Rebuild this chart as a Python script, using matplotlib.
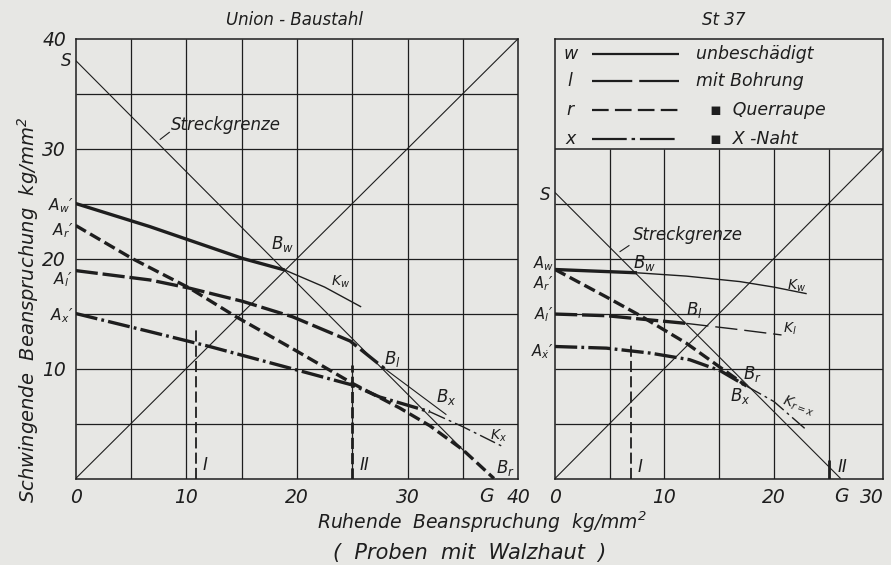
import numpy as np
import matplotlib
matplotlib.use('Agg')
import matplotlib.pyplot as plt

plt.rcParams['font.family'] = ['DejaVu Sans']
plt.rcParams['font.style'] = 'italic'
plt.rcParams['mathtext.fontset'] = 'dejavusans'
plt.rcParams['lines.scale_dashes'] = False
plt.rcParams['lines.solid_capstyle'] = 'butt'
plt.rcParams['lines.dash_capstyle'] = 'butt'

# ---------------- data: Union-Baustahl (left) ----------------
L_streck_x = [0, 35.2]
L_streck_y = [38.0, 2.4]
L_diag_x = [0, 40]
L_diag_y = [0, 40]
L_w_x = [0, 6.7, 15.1, 18.9]
L_w_y = [25.0, 22.9, 20.0, 18.95]
L_kw_x = [18.9, 22.5, 25.8]
L_kw_y = [18.95, 17.4, 15.6]
L_l_x = [0, 6.7, 10.3, 15.1, 19.6, 24.8, 27.9]
L_l_y = [18.9, 18.05, 17.3, 16.1, 14.7, 12.5, 10.0]
L_kl_x = [27.9, 33.5]
L_kl_y = [10.0, 5.8]
L_r_x = [0, 5.1, 10.3, 14.5, 19.6, 25.1, 29.3, 32.0, 35.0, 37.8]
L_r_y = [23.0, 20.0, 17.3, 14.7, 11.8, 8.6, 6.4, 4.8, 2.6, 0.0]
L_x_x = [0, 6.7, 12.1, 18.75, 25.0, 27.5, 32.0]
L_x_y = [15.0, 13.35, 12.0, 10.2, 8.5, 7.4, 6.07]
L_kx_x = [32.0, 35.0, 38.6]
L_kx_y = [6.07, 4.7, 2.9]
L_I = (10.9, 13.8)
L_II = (25.0, 10.3)
L_G = 37.1

# ---------------- data: St 37 (right) ----------------
R_streck_x = [0, 26.1]
R_streck_y = [26.0, 0.0]
R_diag_x = [0, 30]
R_diag_y = [0, 30]
R_w_x = [0, 7.5]
R_w_y = [19.0, 18.7]
R_kw_x = [7.5, 12.0, 16.9, 20.0, 23.0]
R_kw_y = [18.7, 18.4, 17.9, 17.4, 16.8]
R_l_x = [0, 4.7, 7.8, 12.0]
R_l_y = [14.95, 14.8, 14.5, 14.1]
R_kl_x = [12.0, 16.3, 20.7]
R_kl_y = [14.1, 13.6, 13.05]
R_r_x = [0, 4.7, 7.8, 12.0, 15.1, 17.5]
R_r_y = [19.0, 16.5, 14.8, 12.3, 10.1, 8.4]
R_x_x = [0, 4.7, 8.7, 12.3, 15.1, 17.5]
R_x_y = [12.0, 11.85, 11.4, 10.8, 9.8, 8.4]
R_krx_x = [17.5, 20.0, 23.0]
R_krx_y = [8.4, 7.0, 4.4]
R_I = (6.9, 12.1)
R_II = (25.0, 1.7)
R_G = 26.2

L_xticks = [0, 10, 20, 30, 40]
L_yticks = [10, 20, 30, 40]
R_xticks = [0, 10, 20, 30]

legend_keys = ['w', 'l', 'r', 'x']
legend_texts = ['unbeschädigt', 'mit Bohrung', '▪  Querraupe', '▪  X -Naht']

BG = '#e7e7e4'
INK = '#1e1e1e'
THICK = 2.4
THIN = 0.8
GRID = 0.9

DASH_L = (0, (16, 3.5))
DASH_R = (0, (8.5, 3.5))
DASH_X = (0, (16, 3, 2, 3))

fig = plt.figure(figsize=(8.91, 5.65), dpi=100, facecolor=BG)
bottom = (565 - 478.5) / 565
height = 440 / 565
axL = fig.add_axes([75.7 / 891, bottom, (518.3 - 75.7) / 891, height])
axR = fig.add_axes([555 / 891, bottom, (883.3 - 555) / 891, height])

for ax in (axL, axR):
    ax.set_facecolor(BG)
    for s in ax.spines.values():
        s.set_linewidth(1.1)
        s.set_color(INK)
    ax.tick_params(length=0, labelsize=13.5, colors=INK, pad=7)
    ax.set_ylim(0, 40)

# ---- left panel ----
axL.set_xlim(0, 40)
for g in np.arange(5, 40, 5):
    axL.axvline(g, color=INK, lw=GRID, zorder=1)
    axL.axhline(g, color=INK, lw=GRID, zorder=1)
axL.set_xticks(L_xticks)
axL.set_xticklabels([str(t) for t in L_xticks])
axL.set_yticks(L_yticks)
axL.set_yticklabels([str(t) for t in L_yticks])
for lab in axL.get_yticklabels():
    if lab.get_text() == '20':
        lab.set_y(20.7)

axL.plot(L_diag_x, L_diag_y, color=INK, lw=THIN, zorder=2)
axL.plot(L_streck_x, L_streck_y, color=INK, lw=THIN, zorder=2)
axL.plot(L_w_x, L_w_y, color=INK, lw=THICK, zorder=3)
axL.plot(L_kw_x, L_kw_y, color=INK, lw=THIN + 0.2, zorder=3)
axL.plot(L_l_x, L_l_y, color=INK, lw=THICK, ls=DASH_L, zorder=3)
axL.plot(L_kl_x, L_kl_y, color=INK, lw=THIN, zorder=3)
axL.plot(L_r_x, L_r_y, color=INK, lw=THICK, ls=DASH_R, zorder=3)
axL.plot(L_x_x, L_x_y, color=INK, lw=THICK, ls=DASH_X, zorder=3)
axL.plot(L_kx_x, L_kx_y, color=INK, lw=THIN + 0.2, ls=(0, (12, 3, 2, 3)), zorder=3)
axL.plot([L_I[0], L_I[0]], [0, L_I[1]], color=INK, lw=1.3, ls=(0, (8, 3)), zorder=3)
axL.plot([L_II[0], L_II[0]], [0, L_II[1]], color=INK, lw=2.0, ls=(0, (8, 3)), zorder=3)

tk = dict(color=INK, fontsize=12)
tka = dict(color=INK, fontsize=11)
axL.text(-0.4, 38.0, 'S', ha='right', va='center', clip_on=False, **tk)
axL.text(-0.2, 24.8, 'A$_w$′', ha='right', va='center', clip_on=False, **tka)
axL.text(-0.2, 22.5, 'A$_r$′', ha='right', va='center', clip_on=False, **tka)
axL.text(-0.2, 18.1, 'A$_l$′', ha='right', va='center', clip_on=False, **tka)
axL.text(-0.2, 14.8, 'A$_x$′', ha='right', va='center', clip_on=False, **tka)
axL.text(8.6, 32.1, 'Streckgrenze', ha='left', va='center', **tk)
axL.plot([7.6, 8.5], [30.8, 31.5], color=INK, lw=THIN)
axL.text(18.7, 21.3, 'B$_w$', ha='center', va='center', **tk)
axL.text(23.9, 17.9, 'K$_w$', ha='center', va='center', color=INK, fontsize=10)
axL.text(28.6, 10.9, 'B$_l$', ha='center', va='center', **tk)
axL.text(33.5, 7.4, 'B$_x$', ha='center', va='center', **tk)
axL.text(38.2, 3.9, 'K$_x$', ha='center', va='center', color=INK, fontsize=10)
axL.text(38.8, 1.0, 'B$_r$', ha='center', va='center', **tk)
axL.text(11.7, 1.2, 'I', ha='center', va='center', **tk)
axL.text(26.1, 1.2, 'II', ha='center', va='center', **tk)
axL.text(L_G, -1.6, 'G', ha='center', va='center', clip_on=False, color=INK, fontsize=13.5)

# ---- right panel ----
axR.set_xlim(0, 30)
for g in np.arange(5, 30, 5):
    axR.vlines(g, 0, 30, color=INK, lw=GRID, zorder=1)
    axR.axhline(g, color=INK, lw=GRID, zorder=1)
axR.axhline(30, color=INK, lw=1.1, zorder=1)
axR.set_xticks(R_xticks)
axR.set_xticklabels([str(t) for t in R_xticks])
axR.get_xticklabels()[-1].set_horizontalalignment('right')
axR.get_xticklabels()[-1].set_x(30.6)
axR.set_yticks([])

axR.plot(R_diag_x, R_diag_y, color=INK, lw=THIN, zorder=2)
axR.plot(R_streck_x, R_streck_y, color=INK, lw=THIN, zorder=2)
axR.plot(R_w_x, R_w_y, color=INK, lw=THICK, zorder=3)
axR.plot(R_kw_x, R_kw_y, color=INK, lw=THIN + 0.2, zorder=3)
axR.plot(R_l_x, R_l_y, color=INK, lw=THICK, ls=DASH_L, zorder=3)
axR.plot(R_kl_x, R_kl_y, color=INK, lw=THIN + 0.2, ls=(0, (16, 5)), zorder=3)
axR.plot(R_r_x, R_r_y, color=INK, lw=THICK, ls=DASH_R, zorder=3)
axR.plot(R_x_x, R_x_y, color=INK, lw=THICK, ls=DASH_X, zorder=3)
axR.plot(R_krx_x, R_krx_y, color=INK, lw=THIN + 0.2, ls=(0, (12, 3, 2, 3)), zorder=3)
axR.plot([R_I[0], R_I[0]], [0, R_I[1]], color=INK, lw=1.3, ls=(0, (8, 3)), zorder=3)
axR.plot([R_II[0], R_II[0]], [0, R_II[1]], color=INK, lw=2.0, zorder=3)

tkr = dict(color=INK, fontsize=10.5)
axR.text(-0.4, 25.8, 'S', ha='right', va='center', clip_on=False, **tk)
axR.text(-0.1, 19.5, 'A$_w$', ha='right', va='center', clip_on=False, **tkr)
axR.text(-0.1, 17.7, 'A$_r$′', ha='right', va='center', clip_on=False, **tkr)
axR.text(-0.1, 14.9, 'A$_l$′', ha='right', va='center', clip_on=False, **tkr)
axR.text(-0.1, 11.5, 'A$_{\\dot{x}}$′', ha='right', va='center', clip_on=False, **tkr)
axR.text(7.1, 22.1, 'Streckgrenze', ha='left', va='center', **tk)
axR.plot([5.9, 6.8], [20.6, 21.2], color=INK, lw=THIN)
axR.text(8.2, 19.6, 'B$_w$', ha='center', va='center', **tk)
axR.text(22.1, 17.5, 'K$_w$', ha='center', va='center', color=INK, fontsize=10)
axR.text(12.7, 15.3, 'B$_l$', ha='center', va='center', **tk)
axR.text(21.5, 13.6, 'K$_l$', ha='center', va='center', color=INK, fontsize=10)
axR.text(18.0, 9.5, 'B$_r$', ha='center', va='center', **tk)
axR.text(16.9, 7.5, 'B$_x$', ha='center', va='center', **tk)
axR.text(22.2, 6.6, 'K$_{r=x}$', ha='center', va='center', color=INK, fontsize=10, rotation=-20)
axR.text(7.8, 1.0, 'I', ha='center', va='center', **tk)
axR.text(26.3, 1.0, 'II', ha='center', va='center', **tk)
axR.text(R_G, -1.6, 'G', ha='center', va='center', clip_on=False, color=INK, fontsize=13.5)

# legend inside the right panel
leg_y = [38.6, 36.1, 33.5, 30.9]
leg_styles = ['-', (0, (29, 5)), (0, (12, 4.5)), (0, (25, 3.5, 2.5, 3.5))]
for key, txt, yy, st in zip(legend_keys, legend_texts, leg_y, leg_styles):
    axR.text(1.4, yy, key, ha='center', va='center', color=INK, fontsize=12.5)
    axR.plot([3.35, 11.3], [yy, yy], color=INK, lw=1.6, ls=st)
    axR.text(12.9 if not txt.startswith('▪') else 14.2, yy, txt, ha='left', va='center',
             color=INK, fontsize=12.5)

# titles and axis labels
fig.text(295 / 891, 1 - 20 / 565, 'Union - Baustahl', ha='center', va='center', color=INK, fontsize=12)
fig.text(724 / 891, 1 - 20 / 565, 'St 37', ha='center', va='center', color=INK, fontsize=12)
fig.text(482 / 891, 1 - 522 / 565, 'Ruhende  Beanspruchung  kg/mm$^2$', ha='center', va='center',
         color=INK, fontsize=13.5)
fig.text(470 / 891, 1 - 553 / 565, '(  Proben  mit  Walzhaut  )', ha='center', va='center',
         color=INK, fontsize=15)
fig.text(28 / 891, 1 - 310 / 565, 'Schwingende  Beanspruchung  kg/mm$^2$', ha='center', va='center',
         rotation=90, color=INK, fontsize=14)

fig.savefig('out.png', dpi=100, facecolor=BG)
